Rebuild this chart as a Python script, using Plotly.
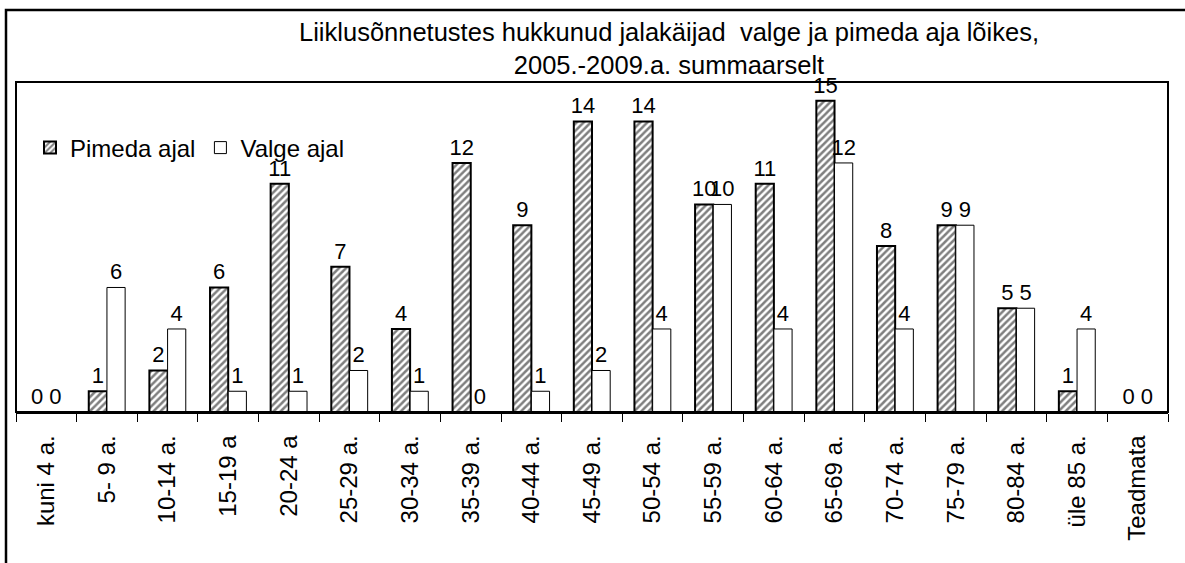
import plotly.graph_objects as go

categories = ["kuni 4 a.", "5- 9 a.", "10-14 a.", "15-19 a", "20-24 a", "25-29 a.",
              "30-34 a.", "35-39 a.", "40-44 a.", "45-49 a.", "50-54 a.", "55-59 a.",
              "60-64 a.", "65-69 a.", "70-74 a.", "75-79 a.", "80-84 a.", "üle 85 a.",
              "Teadmata"]
pimeda = [0, 1, 2, 6, 11, 7, 4, 12, 9, 14, 14, 10, 11, 15, 8, 9, 5, 1, 0]
valge = [0, 6, 4, 1, 1, 2, 1, 0, 1, 2, 4, 10, 4, 12, 4, 9, 5, 4, 0]

W, H = 1185, 563
L, R, T, B = 16, 17, 82, 151

font = dict(family="Liberation Sans, Arial, sans-serif", color="black")

fig = go.Figure()
fig.add_trace(go.Bar(
    name="Pimeda ajal", x=categories, y=pimeda,
    marker=dict(color="white",
                pattern=dict(shape="/", fgcolor="black", bgcolor="white", size=5, solidity=0.5),
                line=dict(color="black", width=2)),
    text=pimeda, textposition="outside", cliponaxis=False, constraintext="none",
    textfont=dict(size=22, **font),
))
fig.add_trace(go.Bar(
    name="Valge ajal", x=categories, y=valge,
    marker=dict(color="white", line=dict(color="black", width=1)),
    text=valge, textposition="outside", cliponaxis=False, constraintext="none",
    textfont=dict(size=22, **font),
))

pw = W - L - R
ph = H - T - B
fig.update_layout(
    width=W, height=H,
    margin=dict(l=L, r=R, t=T, b=B),
    paper_bgcolor="white", plot_bgcolor="white",
    barmode="group", bargap=0.4, bargroupgap=0.0,
    font=dict(size=22, **font),
    title=dict(text="Liiklusõnnetustes hukkunud jalakäijad  valge ja pimeda aja lõikes,<br>2005.-2009.a. summaarselt",
               x=669 / W, xanchor="center", y=1 - 41 / H, yanchor="middle",
               font=dict(size=25.5, **font)),
    legend=dict(orientation="h", x=(30 - L) / pw, y=1 - (148 - T) / ph, xanchor="left", yanchor="middle",
                bgcolor="rgba(0,0,0,0)", font=dict(size=24, **font),
                itemwidth=30, tracegroupgap=0),
    showlegend=True,
    uniformtext=dict(mode=False),
)
fig.update_xaxes(
    type="category", showline=True, linecolor="black", linewidth=1.5, mirror=False,
    ticks="outside", tickson="boundaries", ticklen=8, tickcolor="black",
    tickangle=-90, tickfont=dict(size=24, **font), showgrid=False,
    ticklabelstandoff=12,
)
fig.update_yaxes(
    range=[0, 15.9], showticklabels=False, showgrid=False, zeroline=False,
    showline=False, ticks="",
)
# plot area frame
fig.add_shape(type="rect", xref="paper", yref="paper", x0=0, x1=1, y0=0, y1=1,
              line=dict(color="black", width=2), fillcolor="rgba(0,0,0,0)", layer="above")
# outer chart frame
fig.add_shape(type="rect", xref="paper", yref="paper",
              x0=(6 - L) / pw, x1=(W + 5 - L) / pw, y0=(T + ph - (H + 5)) / ph, y1=1 + (T - 10) / ph,
              line=dict(color="black", width=2.5), fillcolor="rgba(0,0,0,0)", layer="above")

fig.write_html("out.html", config={"displayModeBar": False},
               post_script="document.body.style.margin='0';document.body.style.overflow='hidden';")
